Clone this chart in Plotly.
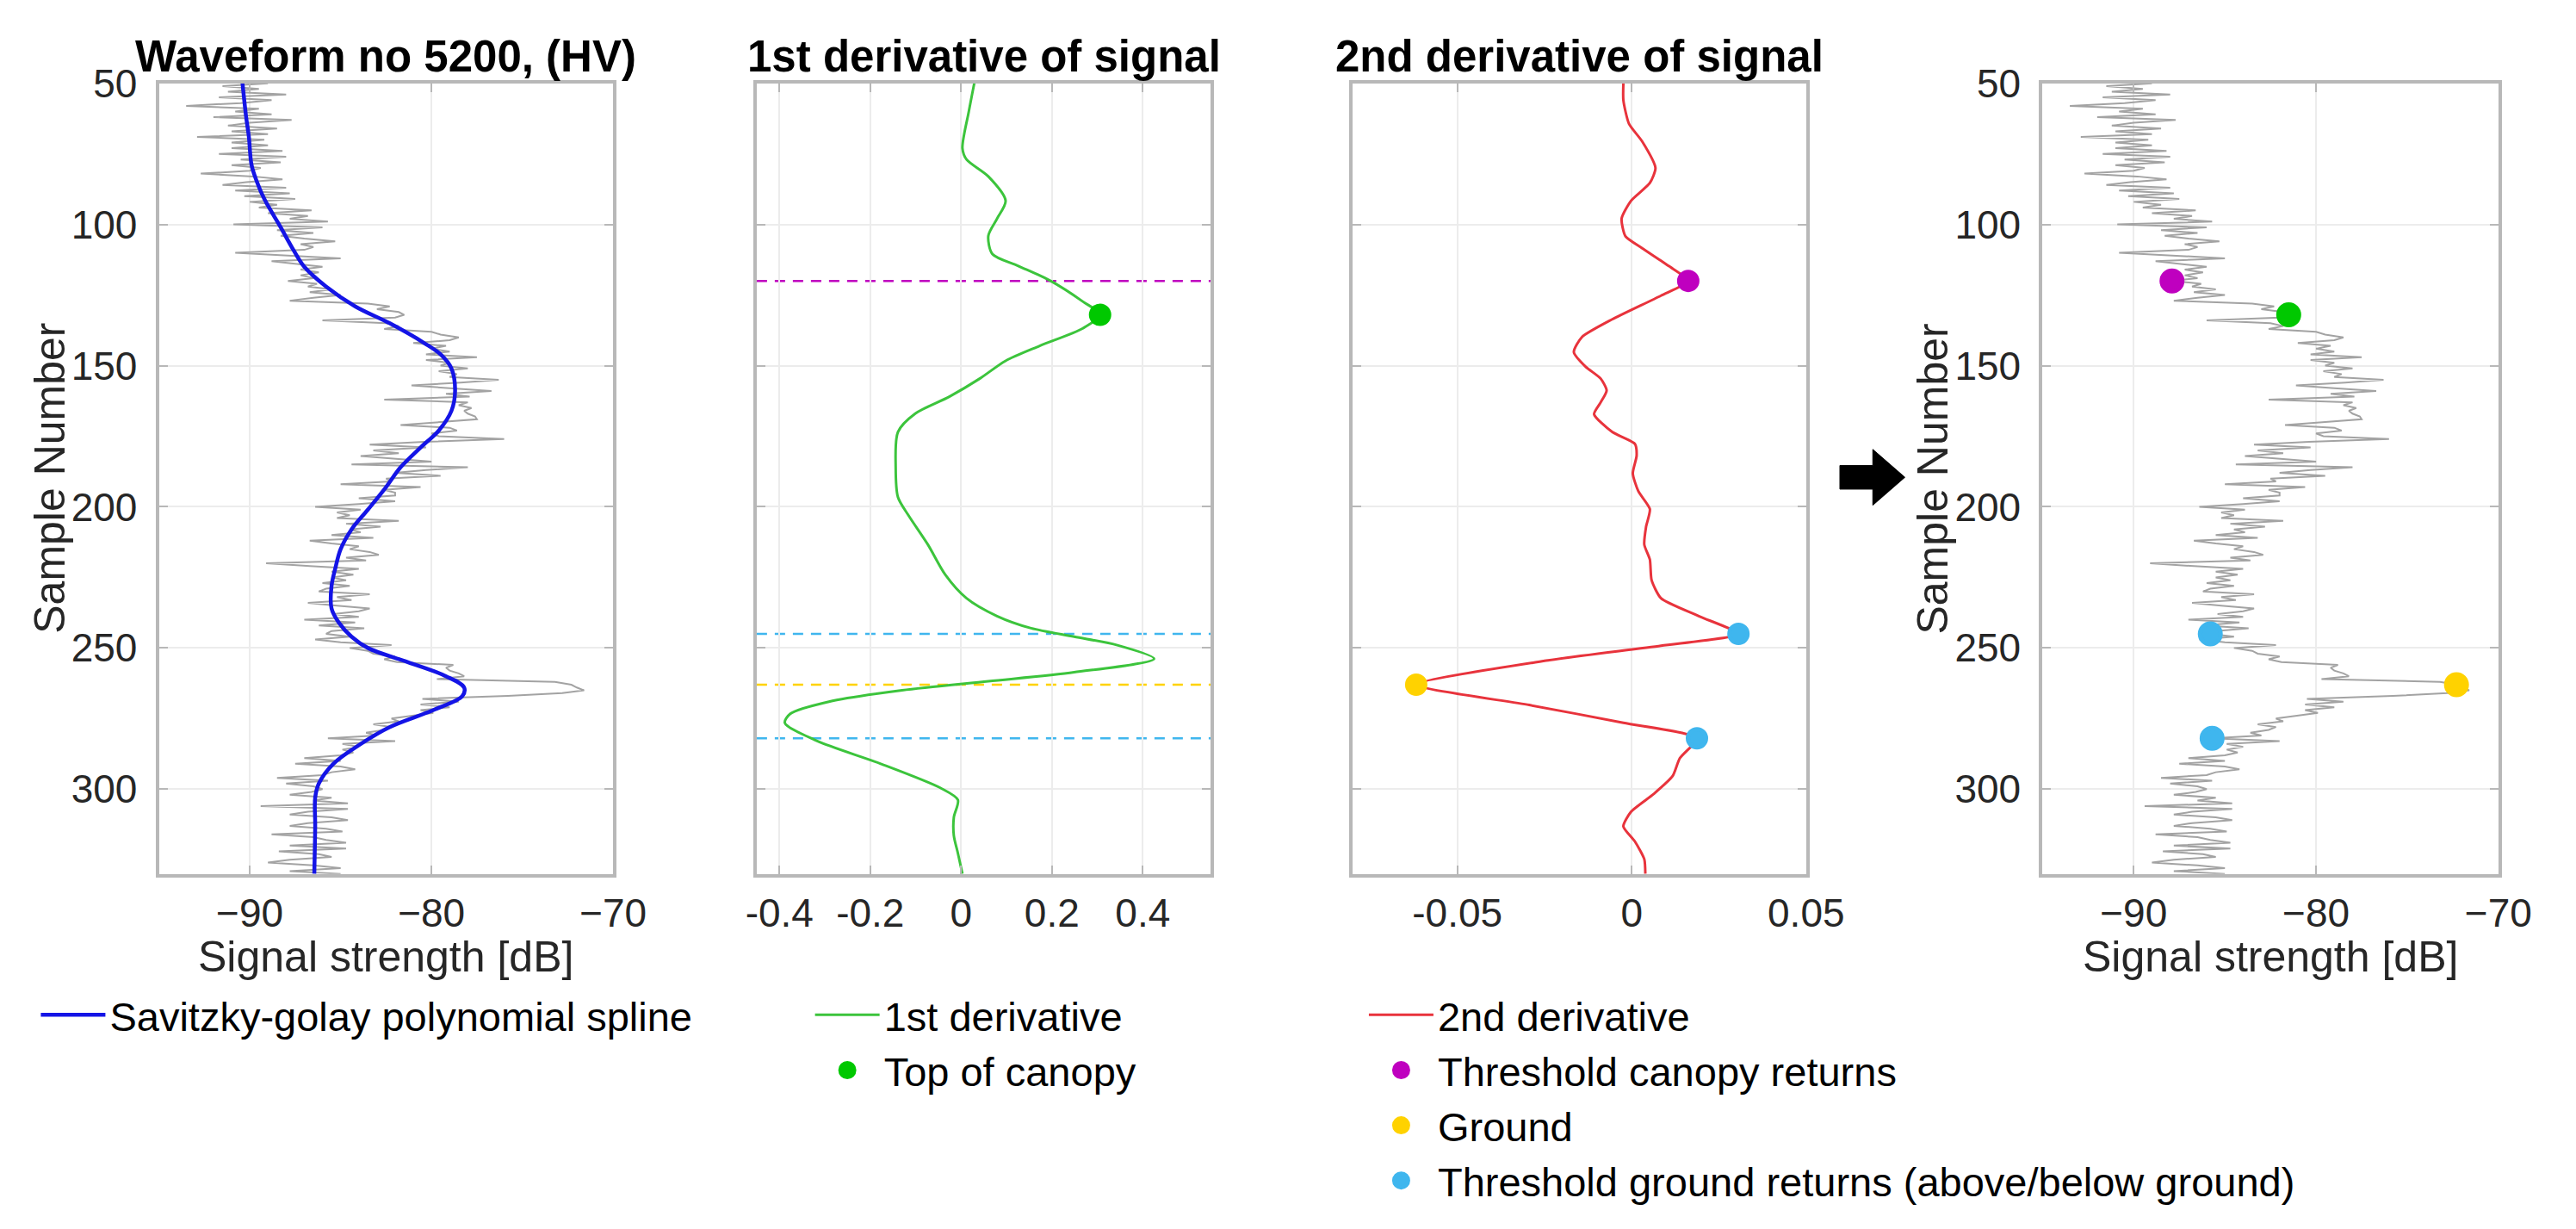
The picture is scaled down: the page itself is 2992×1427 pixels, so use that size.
import plotly.graph_objects as go

FONT = "Liberation Sans, Arial, Helvetica, sans-serif"
W, H = 2992, 1427

# ---------------- data ----------------
sample_start = 50
signal_raw = [
    -89.0, -91.5, -89.5, -91.2, -88.0, -91.7, -88.8, -90.5, -93.5, -89.5,   # 50-59
    -90.8, -88.8, -92.0, -87.7, -90.0, -91.2, -88.5, -91.0, -89.0, -92.9,   # 60-69
    -89.2, -91.0, -89.0, -91.0, -88.2, -91.7, -88.0, -90.5, -88.3, -91.0,   # 70-79
    -89.4, -90.0, -92.7, -89.8, -88.2, -90.2, -91.5, -88.0, -90.8, -87.8,   # 80-89
    -90.3, -87.5, -90.0, -88.5, -89.5, -86.6, -89.0, -86.8, -87.8, -85.7,   # 90-99
    -90.9, -86.0, -88.5, -86.5, -88.3, -87.0, -85.3, -87.2, -86.5, -87.0,   # 100-109
    -90.8, -87.7, -85.0, -88.8, -87.3, -86.0, -87.2, -86.2, -87.2, -86.5,   # 110-119
    -87.9, -86.3, -86.8, -85.5, -86.7, -85.0, -86.5, -87.8, -83.5, -82.3,   # 120-129
    -83.0, -81.8, -81.5, -82.0, -86.0, -82.5, -81.8, -82.6, -80.0, -79.5,   # 130-139
    -78.5, -79.0, -81.0, -79.2, -80.0, -79.0, -80.3, -77.5, -80.3, -79.0,   # 140-149
    -79.5, -78.0, -79.6, -78.6, -79.0, -76.3, -78.4, -81.1, -79.0, -76.7,   # 150-159
    -79.2, -77.9, -82.6, -78.0, -78.5, -77.8, -78.2, -78.0, -77.6, -77.5,   # 160-169
    -79.5, -81.7, -79.0, -78.6, -80.0, -79.6, -76.0, -80.4, -83.4, -80.3,   # 170-179
    -83.2, -81.8, -83.9, -81.8, -80.0, -84.4, -78.0, -80.3, -82.0, -79.5,   # 180-189
    -82.5, -82.2, -85.0, -80.6, -82.6, -82.0, -82.0, -84.0, -82.0, -84.0,   # 190-199
    -86.4, -83.9, -85.2, -84.5, -85.2, -81.8, -84.7, -82.8, -84.5, -83.9,   # 200-209
    -85.5, -83.2, -86.7, -85.5, -84.0, -84.5, -83.4, -82.9, -84.7, -83.6,   # 210-219
    -89.1, -86.7, -84.0, -85.5, -84.3, -85.5, -84.7, -86.0, -84.5, -85.8,   # 220-229
    -86.2, -83.4, -85.2, -84.4, -86.8, -85.2, -83.4, -84.0, -85.4, -84.0,   # 230-239
    -87.0, -84.2, -86.2, -83.7, -85.5, -85.8, -84.5, -86.4, -85.0, -82.2,   # 240-249
    -84.5, -83.5, -83.2, -82.0, -82.6, -81.9, -78.8, -79.2, -79.0, -78.5,   # 250-259
    -78.2, -79.7, -73.2, -72.3, -72.0, -71.6, -72.8, -75.8, -80.5, -78.5,   # 260-269
    -80.6, -79.0, -80.6, -79.9, -81.0, -82.2, -81.8, -83.2, -82.2, -82.6,   # 270-279
    -83.6, -83.0, -85.7, -82.0, -84.9, -84.0, -84.9, -84.3, -85.0, -87.0,   # 280-289
    -85.0, -87.5, -85.0, -84.2, -85.5, -86.0, -88.5, -85.7, -88.0, -86.5,   # 290-299
    -86.0, -86.6, -87.8, -85.5, -86.5, -84.6, -89.4, -84.6, -86.8, -87.8,   # 300-309
    -85.5, -84.6, -86.8, -87.8, -85.8, -84.9, -88.8, -86.5, -85.8, -84.7,   # 310-319
    -87.8, -84.7, -88.4, -86.2, -85.5, -87.8, -89.0, -86.5, -85.0, -87.8,   # 320-329
    -85.0,                                                                   # 330
]
samples_raw = list(range(sample_start, sample_start + len(signal_raw)))

sg_samples = [50, 62, 69, 79, 85, 91, 101, 109, 115, 122, 129, 135, 142, 146, 151,
              159, 166, 173, 179, 186, 193, 201, 208, 215, 222, 228, 236, 241, 246,
              250, 255, 260, 264, 267, 272, 278, 284, 291, 298, 303, 313, 330]
sg_signal = [-90.4, -90.2, -90.05, -89.9, -89.6, -89.2, -88.3, -87.6, -87.0, -85.8,
             -84.2, -82.3, -80.4, -79.5, -78.9, -78.7, -78.9, -79.6, -80.6, -81.7,
             -82.5, -83.5, -84.4, -85.0, -85.3, -85.5, -85.5, -85.1, -84.4, -83.5,
             -81.3, -79.2, -78.2, -78.3, -79.9, -82.3, -83.9, -85.4, -86.2, -86.4,
             -86.4, -86.45]

d1_samples = [50, 60, 73, 77, 83, 91.6, 98, 104, 110.5, 114.7, 120, 127.3, 132, 136.8,
              143, 148.3, 154.6, 161, 167, 173.5, 186, 196.6, 203, 213.4, 224, 232.4,
              238.7, 243, 246, 249, 253.8, 258.6, 261.8, 265, 269, 273.3, 276.5, 282.8,
              291, 299.6, 303.8, 310, 316.4, 322.7, 330]
d1_values = [0.029, 0.017, 0.003, 0.012, 0.06, 0.098, 0.079, 0.06, 0.069, 0.126, 0.197,
             0.268, 0.306, 0.268, 0.173, 0.098, 0.041, -0.026, -0.101, -0.139, -0.144,
             -0.139, -0.116, -0.073, -0.035, 0.012, 0.079, 0.154, 0.249, 0.344, 0.425,
             0.249, 0.06, -0.13, -0.291, -0.376, -0.388, -0.319, -0.177, -0.045, -0.007,
             -0.016, -0.016, -0.007, 0.003]

d2_samples = [50, 56, 64.3, 70.6, 80, 85.3, 91.6, 97.9, 104.2, 108.4, 114.7, 120, 125.2,
              133.6, 139.9, 145.2, 150.4, 154.6, 158.8, 163, 167.2, 173.5, 177.7, 181.9,
              188.2, 194.5, 200.8, 207.1, 213.4, 218.7, 226, 232.4, 238.7, 245, 249.2,
              254.4, 263, 270.2, 276.5, 282, 289, 295.4, 301.7, 308, 313.2, 318.5, 324.8,
              330]
d2_values = [-0.0024, -0.0024, -0.0008, 0.003, 0.0068, 0.0052, -0.0002, -0.0029, -0.0018,
             0.003, 0.0106, 0.0162, 0.0084, -0.0056, -0.0143, -0.0166, -0.0132, -0.0089,
             -0.0072, -0.0089, -0.0108, -0.0056, 0.0009, 0.0014, 0.0003, 0.0019, 0.0052,
             0.0041, 0.0036, 0.0052, 0.0057, 0.0084, 0.0192, 0.0306, 0.0084, -0.024,
             -0.0618, -0.0294, -0.0024, 0.0187, 0.0138, 0.0117, 0.0063, -0.0002, -0.0024,
             0.0009, 0.0036, 0.0039]

top_canopy_sample = [132]
top_canopy_d1 = [0.306]
thr_canopy_sample = [120]
thr_canopy_d2 = [0.0162]
ground_sample = [263]
ground_d2 = [-0.0618]
thr_ground_samples = [245, 282]
thr_ground_d2 = [0.0306, 0.0187]

y_ticks = [50, 100, 150, 200, 250, 300]
y_range = [330, 50]
sig_ticks = [-90, -80, -70]
sig_range = [-95, -70]
d1_ticks = [-0.4, -0.2, 0, 0.2, 0.4]
d1_ticktext = ["-0.4", "-0.2", "0", "0.2", "0.4"]
d1_range = [-0.45, 0.55]
d2_ticks = [-0.05, 0, 0.05]
d2_ticktext = ["-0.05", "0", "0.05"]
d2_range = [-0.08, 0.05]

titles = ["Waveform no 5200, (HV)", "1st derivative of signal", "2nd derivative of signal"]

# ---------------- styles ----------------
C_RAW = "#a3a3a3"
C_SG = "#1414e6"
C_D1 = "#3cc43c"
C_D2 = "#e8333c"
C_MAG = "#bf00bf"
C_GRN = "#00c800"
C_YEL = "#ffd200"
C_CYA = "#3fb6ee"


def fx(px):
    return px / W


def fy(py):
    return 1 - py / H


def sig_at(s):
    return signal_raw[s - sample_start]


def mk(color, size):
    return dict(color=color, size=size, line=dict(color=color, width=5))


BOX_TOP, BOX_BOT = 72, 1007
panels_px = [(175, 713), (883, 1421), (1589, 2126), (2406, 2946)]

fig = go.Figure()

# panel 1
fig.add_trace(go.Scatter(x=signal_raw, y=samples_raw, mode="lines",
                         line=dict(color=C_RAW, width=2), showlegend=False,
                         xaxis="x", yaxis="y"))
fig.add_trace(go.Scatter(x=sg_signal, y=sg_samples, mode="lines",
                         line=dict(color=C_SG, width=4.5, shape="spline", smoothing=1.0),
                         name="Savitzky-golay polynomial spline", legend="legend",
                         xaxis="x", yaxis="y"))
# panel 2
fig.add_trace(go.Scatter(x=d1_values, y=d1_samples, mode="lines",
                         line=dict(color=C_D1, width=3, shape="spline", smoothing=0.8),
                         name="1st derivative", legend="legend2",
                         xaxis="x2", yaxis="y2"))
fig.add_trace(go.Scatter(x=top_canopy_d1, y=top_canopy_sample, mode="markers",
                         marker=mk(C_GRN, 21),
                         name="Top of canopy", legend="legend2",
                         xaxis="x2", yaxis="y2"))
# panel 3
fig.add_trace(go.Scatter(x=d2_values, y=d2_samples, mode="lines",
                         line=dict(color=C_D2, width=3, shape="spline", smoothing=0.6),
                         name="2nd derivative", legend="legend3",
                         xaxis="x3", yaxis="y3"))
fig.add_trace(go.Scatter(x=thr_canopy_d2, y=thr_canopy_sample, mode="markers",
                         marker=mk(C_MAG, 21),
                         name="Threshold canopy returns", legend="legend3",
                         xaxis="x3", yaxis="y3"))
fig.add_trace(go.Scatter(x=ground_d2, y=ground_sample, mode="markers",
                         marker=mk(C_YEL, 21),
                         name="Ground", legend="legend3",
                         xaxis="x3", yaxis="y3"))
fig.add_trace(go.Scatter(x=thr_ground_d2, y=thr_ground_samples, mode="markers",
                         marker=mk(C_CYA, 21),
                         name="Threshold ground returns (above/below ground)", legend="legend3",
                         xaxis="x3", yaxis="y3"))
# panel 4
fig.add_trace(go.Scatter(x=signal_raw, y=samples_raw, mode="lines",
                         line=dict(color=C_RAW, width=2), showlegend=False,
                         xaxis="x4", yaxis="y4"))
for s_list, col in [(thr_canopy_sample, C_MAG), (top_canopy_sample, C_GRN),
                    (thr_ground_samples, C_CYA), (ground_sample, C_YEL)]:
    fig.add_trace(go.Scatter(x=[sig_at(s) for s in s_list], y=s_list, mode="markers",
                             marker=mk(col, 24), showlegend=False,
                             xaxis="x4", yaxis="y4"))

# dashed threshold lines in panel 2
for s, col in [(thr_canopy_sample[0], C_MAG), (thr_ground_samples[0], C_CYA),
               (ground_sample[0], C_YEL), (thr_ground_samples[1], C_CYA)]:
    fig.add_shape(type="line", xref="x2 domain", yref="y2", x0=0, x1=1, y0=s, y1=s,
                  line=dict(color=col, width=2.5, dash="12px,9px"), layer="below")

axis_style = dict(showline=True, linecolor="#b8b8b8", linewidth=4, mirror="allticks",
                  ticks="inside", ticklen=10, tickwidth=2, tickcolor="#b8b8b8",
                  showgrid=True, gridcolor="#ececec", gridwidth=2, zeroline=False,
                  tickfont=dict(family=FONT, size=46, color="#262626"))

layout = dict(width=W, height=H, margin=dict(l=0, r=0, t=0, b=0),
              paper_bgcolor="white", plot_bgcolor="white",
              font=dict(family=FONT, color="#000000"))

xinfo = [
    dict(range=sig_range, tickvals=sig_ticks),
    dict(range=d1_range, tickvals=d1_ticks, ticktext=d1_ticktext),
    dict(range=d2_range, tickvals=d2_ticks, ticktext=d2_ticktext),
    dict(range=sig_range, tickvals=sig_ticks),
]
for i, (l, r) in enumerate(panels_px):
    k = "" if i == 0 else str(i + 1)
    xa = dict(axis_style, domain=[fx(l), fx(r)], anchor="y" + k, ticklabelstandoff=2,
              **xinfo[i])
    ya = dict(axis_style, domain=[fy(BOX_BOT), fy(BOX_TOP)], anchor="x" + k,
              range=y_range, tickvals=y_ticks, showticklabels=(i in (0, 3)),
              ticklabelstandoff=12)
    layout["xaxis" + k] = xa
    layout["yaxis" + k] = ya

legend_font = dict(family=FONT, size=47, color="#000000")
leg_common = dict(xanchor="left", yanchor="top", font=legend_font,
                  bgcolor="rgba(0,0,0,0)", borderwidth=0, itemwidth=75)
layout["legend"] = dict(leg_common, x=fx(30), y=fy(1136))
layout["legend2"] = dict(leg_common, x=fx(947), y=fy(1136))
layout["legend3"] = dict(leg_common, x=fx(1603), y=fy(1136))

annotations = []
for i, t in enumerate(titles):
    l, r = panels_px[i]
    annotations.append(dict(text="<b>" + t + "</b>", x=fx((l + r) / 2), y=fy(40),
                            xref="paper", yref="paper", showarrow=False,
                            xanchor="center", yanchor="middle",
                            font=dict(family=FONT, size=51, color="#000000")))
for i in (0, 3):
    l, r = panels_px[i]
    annotations.append(dict(text="Signal strength [dB]", x=fx((l + r) / 2), y=fy(1105),
                            xref="paper", yref="paper", showarrow=False,
                            xanchor="center", yanchor="middle",
                            font=dict(family=FONT, size=50, color="#262626")))
for xc in (46, 2276):
    annotations.append(dict(text="Sample Number", x=fx(xc), y=fy((BOX_TOP + BOX_BOT) / 2),
                            xref="paper", yref="paper", showarrow=False, textangle=-90,
                            xanchor="center", yanchor="middle",
                            font=dict(family=FONT, size=50, color="#262626")))
layout["annotations"] = annotations

# black arrow between panel 3 and panel 4
ax0, ax1, ax2 = fx(2166), fx(2205), fx(2243)
ay_c, ay_s, ay_h = 538, 14, 33
arrow_path = (f"M {ax0},{fy(ay_c - ay_s)} L {ax1},{fy(ay_c - ay_s)} L {ax1},{fy(ay_c - ay_h)} "
              f"L {ax2},{fy(ay_c)} L {ax1},{fy(ay_c + ay_h)} L {ax1},{fy(ay_c + ay_s)} "
              f"L {ax0},{fy(ay_c + ay_s)} Z")
fig.add_shape(type="path", xref="paper", yref="paper", path=arrow_path,
              fillcolor="black", line=dict(color="black", width=1))

fig.update_layout(**layout)

fig.write_html("out.html", config={"displayModeBar": False},
               post_script="document.body.style.margin='0';document.body.style.overflow='hidden';")
